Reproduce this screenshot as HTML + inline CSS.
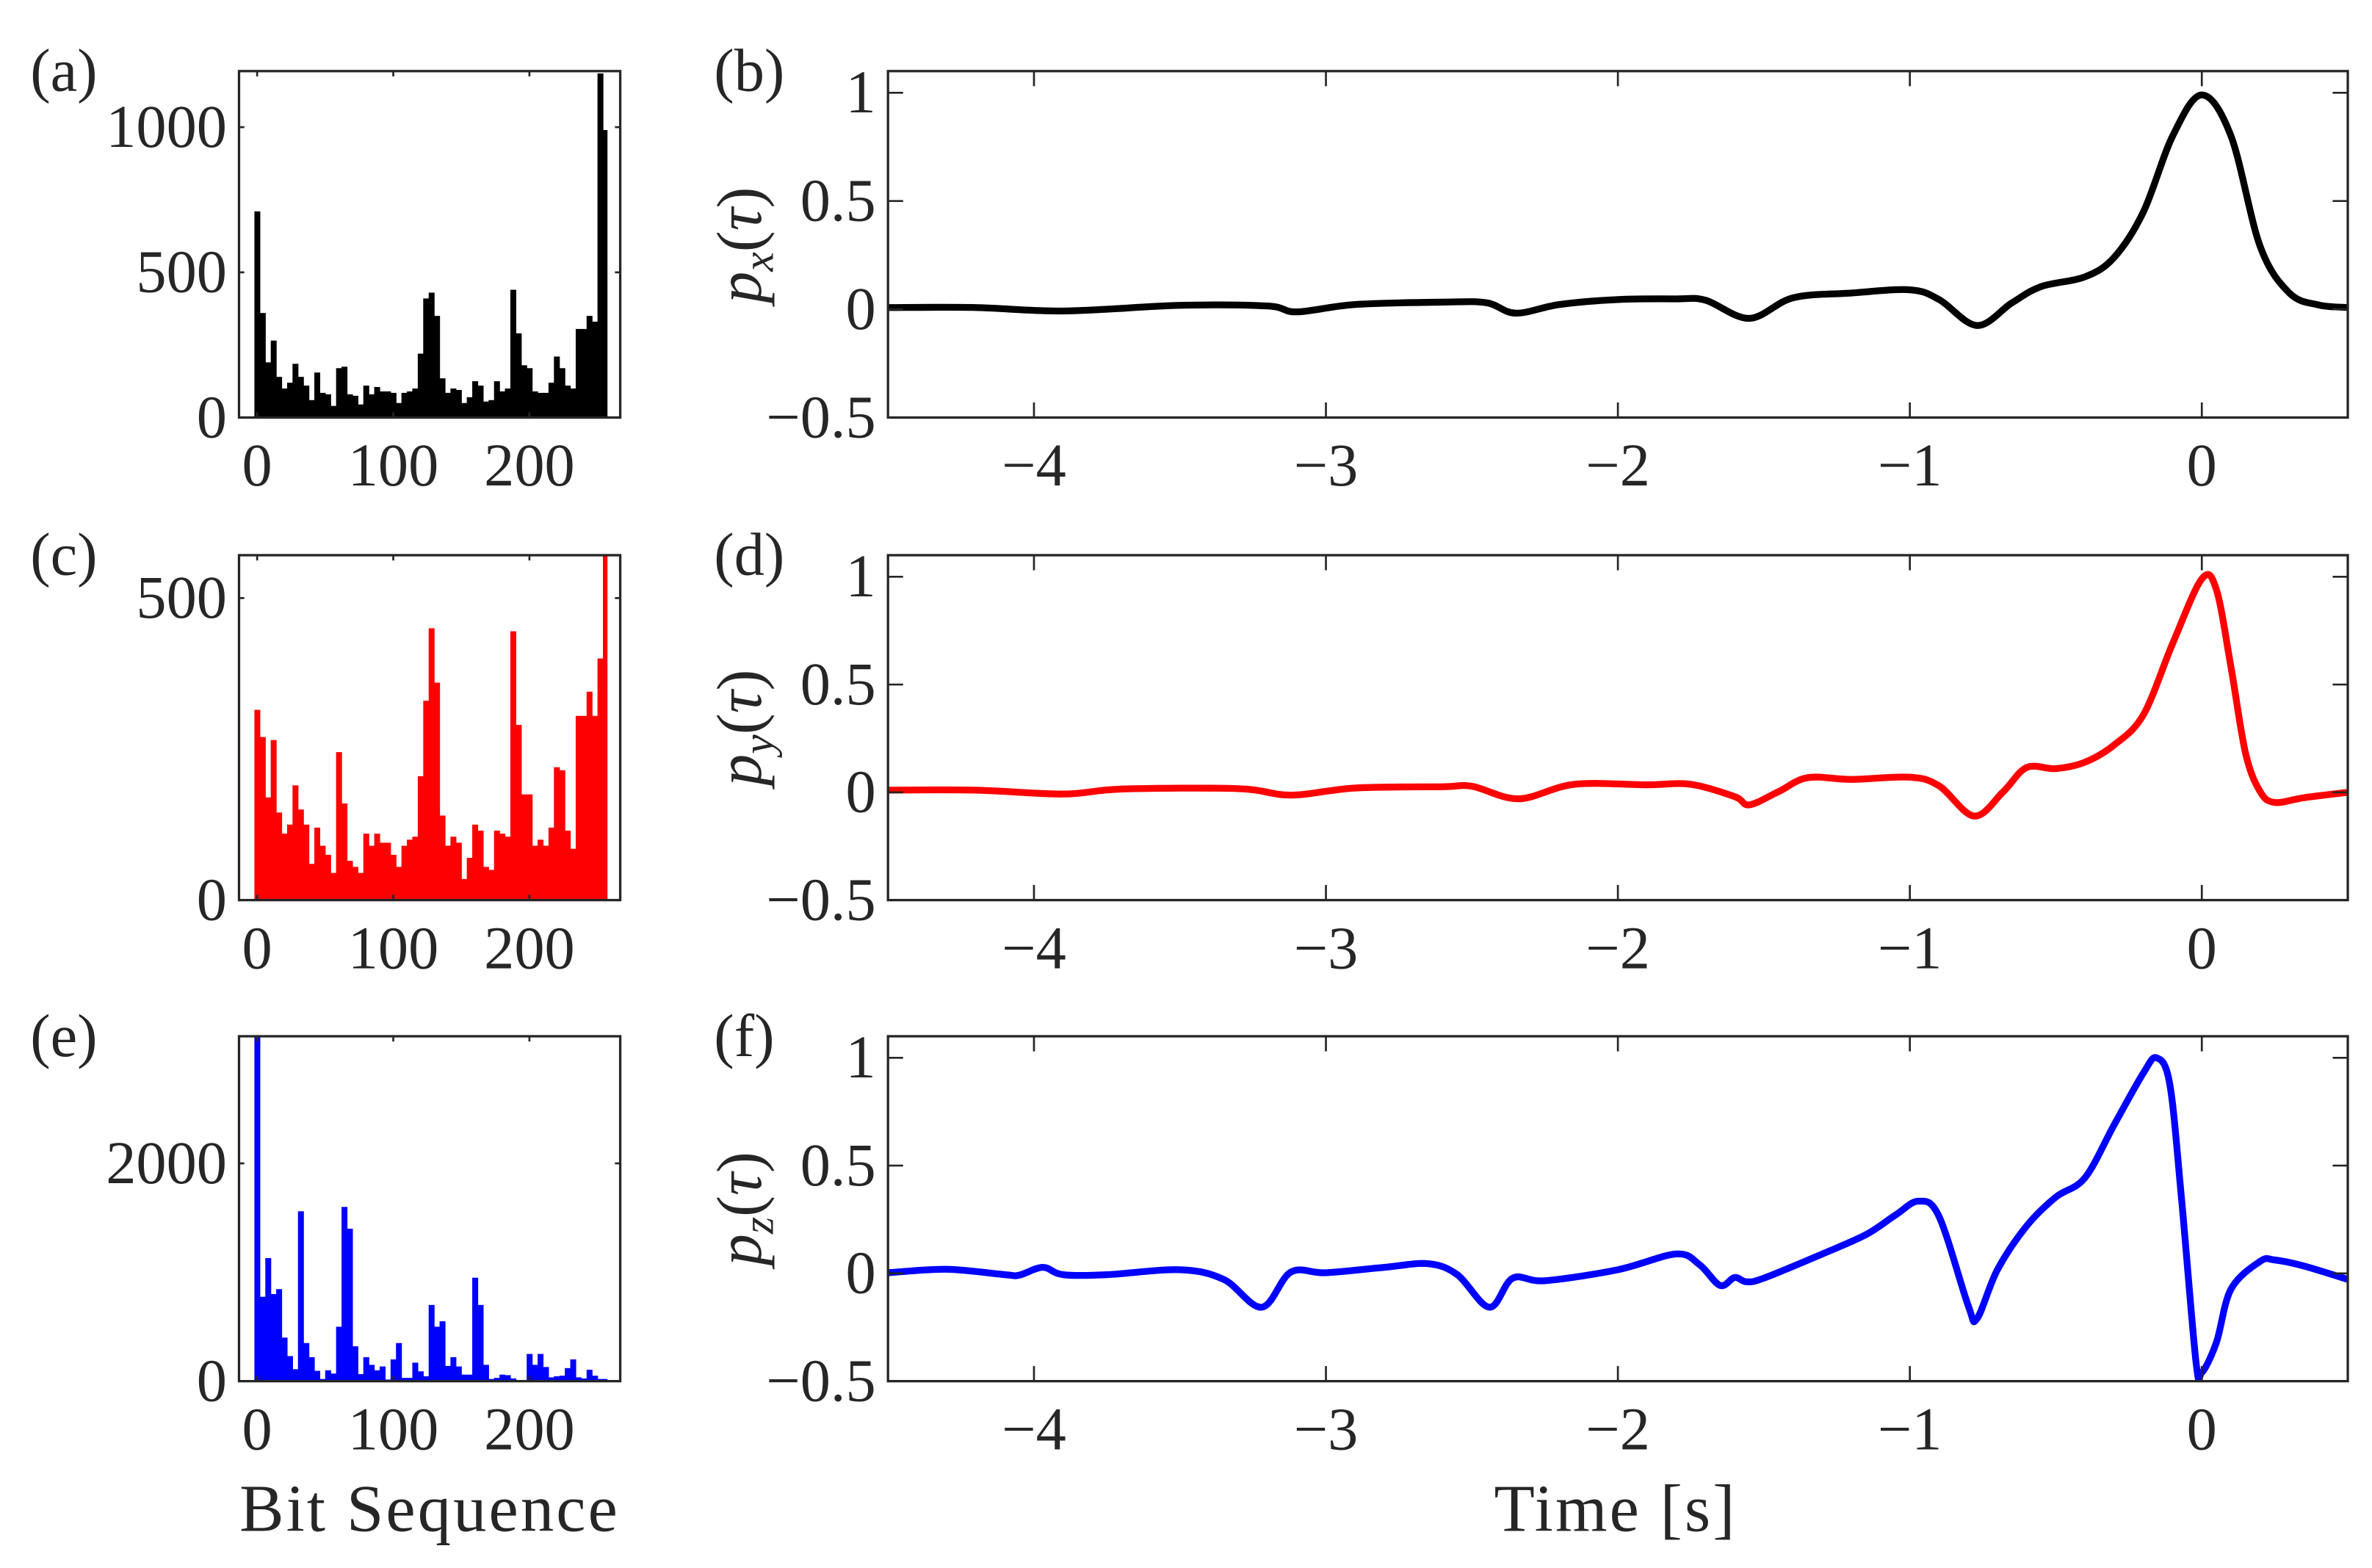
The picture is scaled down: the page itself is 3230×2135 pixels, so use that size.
<!DOCTYPE html>
<html><head><meta charset="utf-8"><style>
html,body{margin:0;padding:0;background:#fff;}
svg{display:block;}
text{font-family:"Liberation Serif",serif;fill:#262626;}
</style></head><body>
<svg id="fig" xmlns="http://www.w3.org/2000/svg" width="3230" height="2135" viewBox="0 0 1568 1036.5" preserveAspectRatio="none"></svg>
<script>
// ---- histogram data (bins of width 4, starting at -2) ----
const histA = [710,360,190,265,140,100,120,185,140,110,60,155,85,80,40,170,175,80,75,45,110,80,105,90,90,85,50,85,90,100,220,410,430,350,135,85,100,95,50,70,125,110,55,60,125,90,100,440,290,180,170,90,85,85,120,210,170,110,100,305,305,350,330,1185,990];
const histC = [315,270,170,265,145,110,125,190,150,125,60,120,90,75,45,245,160,65,55,45,110,90,110,95,95,75,55,90,100,105,205,330,450,360,140,90,105,95,35,70,125,115,55,50,115,110,105,445,290,175,175,90,100,90,120,220,215,115,85,305,305,345,305,400,580];
const histE = [3200,775,1130,800,845,400,230,110,1560,350,220,95,20,100,70,500,1600,1400,320,65,220,150,100,135,15,200,350,30,30,170,90,45,700,500,550,140,220,135,60,60,950,700,150,20,30,60,55,25,10,0,250,150,250,130,35,45,50,120,200,35,25,105,50,20,20];
const histXTicks = [0,100,200];
const histATicks = [0,500,1000];
const histCTicks = [0,500];
const histETicks = [0,2000];
// ---- time series data ----
const tB = [-4.5,-4.2,-3.9,-3.5,-3.2,-3.1,-2.9,-2.6,-2.45,-2.35,-2.2,-2.0,-1.8,-1.7,-1.55,-1.4,-1.2,-1.0,-0.9,-0.77,-0.65,-0.55,-0.4,-0.3,-0.2,-0.1,0,0.1,0.2,0.3,0.4,0.5];
const pB = [0.008,0.008,-0.008,0.018,0.015,-0.012,0.022,0.033,0.03,-0.018,0.022,0.045,0.048,0.042,-0.042,0.053,0.075,0.09,0.045,-0.075,0.03,0.105,0.15,0.24,0.45,0.80,0.99,0.80,0.29,0.075,0.02,0.008];
const tD = [-4.5,-4.2,-3.9,-3.7,-3.3,-3.12,-2.9,-2.6,-2.5,-2.34,-2.15,-1.9,-1.75,-1.6,-1.55,-1.45,-1.35,-1.2,-1.0,-0.9,-0.78,-0.68,-0.6,-0.5,-0.4,-0.3,-0.2,-0.1,0,0.05,0.1,0.15,0.2,0.25,0.35,0.5];
const pD = [0.01,0.01,-0.008,0.015,0.017,-0.013,0.02,0.026,0.028,-0.03,0.037,0.035,0.037,-0.02,-0.058,0.003,0.068,0.06,0.07,0.03,-0.11,0.003,0.115,0.11,0.14,0.22,0.36,0.69,0.99,0.94,0.58,0.18,0.003,-0.047,-0.025,0.0];
const tF = [-4.5,-4.3,-4.1,-4.05,-3.97,-3.9,-3.75,-3.5,-3.35,-3.22,-3.12,-3.0,-2.8,-2.65,-2.55,-2.44,-2.36,-2.25,-2.0,-1.8,-1.72,-1.65,-1.6,-1.56,-1.5,-1.3,-1.15,-1.05,-0.97,-0.9,-0.8,-0.77,-0.7,-0.6,-0.5,-0.4,-0.3,-0.2,-0.155,-0.11,-0.07,-0.02,0.0,0.05,0.1,0.2,0.25,0.35,0.5];
const pF = [0.003,0.019,-0.006,-0.008,0.028,-0.006,-0.006,0.017,-0.028,-0.157,0.006,0.003,0.028,0.045,-0.006,-0.157,-0.022,-0.034,0.017,0.09,0.04,-0.056,-0.019,-0.039,-0.022,0.09,0.18,0.27,0.335,0.264,-0.15,-0.21,0.017,0.22,0.354,0.444,0.69,0.93,1.0,0.88,0.354,-0.41,-0.46,-0.32,-0.073,0.056,0.062,0.034,-0.028];
const timeTicks = [-4,-3,-2,-1,0];
const pTicks = [-0.5,0,0.5,1];

const NS = 'http://www.w3.org/2000/svg';
const svg = document.getElementById('fig');
function el(tag, attrs, parent){ const e=document.createElementNS(NS,tag); for(const k in attrs) e.setAttribute(k,attrs[k]); (parent||svg).appendChild(e); return e; }
function fmt(v){ return (v<0?'\u2212':'')+String(Math.abs(v)); }
const AX='#262626';
let clipId=0;

function axesFrame(x0,x1,y0,y1,xs,ys,xTicks,yTicks,tickLen,name){
  const g = el('g',{});
  
  
  xTicks.forEach(v=>{
    const x=xs(v);
    el('line',{x1:x,x2:x,y1:y1,y2:y1-tickLen,stroke:AX,'stroke-width':1.3},g);
    el('line',{x1:x,x2:x,y1:y0,y2:y0+tickLen,stroke:AX,'stroke-width':1.3},g);
    const t=el('text',{x:x,y:y1+45,'text-anchor':'middle','font-size':40},g);
    t.textContent=fmt(v);
    
    
  });
  yTicks.forEach(v=>{
    const y=ys(v);
    el('line',{x1:x0,x2:x0+tickLen,y1:y,y2:y,stroke:AX,'stroke-width':1.3},g);
    el('line',{x1:x1,x2:x1-tickLen,y1:y,y2:y,stroke:AX,'stroke-width':1.3},g);
    const t=el('text',{x:x0-8,y:y+13,'text-anchor':'end','font-size':40},g);
    t.textContent=fmt(v);
    
    
  });
  el('rect',{x:x0,y:y0,width:x1-x0,height:y1-y0,fill:'none',stroke:AX,'stroke-width':1.6},g);
}
function clip(x0,x1,y0,y1){
  const id='c'+(clipId++);
  const cp=el('clipPath',{id:id});
  el('rect',{x:x0,y:y0,width:x1-x0,height:y1-y0},cp);
  return id;
}
function histogram(vals,color,y0,y1,ymax,yTicks,name){
  const x0=158,x1=410, xmin=-13.3, xmax=266.7;
  const xs=v=>x0+(v-xmin)/(xmax-xmin)*(x1-x0);
  const ys=v=>y1-v/ymax*(y1-y0);
  const id=clip(x0,x1,y0,y1);
  const g=el('g',{'clip-path':'url(#'+id+')'});
  
  
  vals.forEach((v,k)=>{
    const a=xs(-2+4*k), b=xs(Math.min(2+4*k,257));
    const r=el('rect',{x:a,y:ys(v),width:b-a+0.3,height:Math.max(0,y1-ys(v)),fill:color},g);
    
    
  });
  axesFrame(x0,x1,y0,y1,xs,ys,histXTicks,yTicks,3.5,name);
}
function curvePath(pts){
  let d='M'+pts[0][0]+','+pts[0][1];
  for(let i=0;i<pts.length-1;i++){
    const p0=pts[Math.max(0,i-1)],p1=pts[i],p2=pts[i+1],p3=pts[Math.min(pts.length-1,i+2)];
    const c1x=p1[0]+(p2[0]-p0[0])/6,c1y=p1[1]+(p2[1]-p0[1])/6;
    const c2x=p2[0]-(p3[0]-p1[0])/6,c2y=p2[1]-(p3[1]-p1[1])/6;
    d+=' C'+c1x+','+c1y+' '+c2x+','+c2y+' '+p2[0]+','+p2[1];
  }
  return d;
}
function linePanel(ts,ps,color,y0,y1,name){
  const x0=587,x1=1552, xmin=-4.5,xmax=0.5, ymin=-0.5, ymax=1.1;
  const xs=v=>x0+(v-xmin)/(xmax-xmin)*(x1-x0);
  const ys=v=>y1-(v-ymin)/(ymax-ymin)*(y1-y0);
  const id=clip(x0,x1,y0,y1);
  const pts=ts.map((t,i)=>[xs(t),ys(ps[i])]);
  const p=el('path',{d:curvePath(pts),fill:'none',stroke:color,'stroke-width':4.5,'stroke-linejoin':'round','clip-path':'url(#'+id+')'});
  
  
  axesFrame(x0,x1,y0,y1,xs,ys,timeTicks,pTicks,10,name);
}
histogram(histA,'#000000',47,276,1193,histATicks,'panel-a');
histogram(histC,'#ff0000',367,595,571,histCTicks,'panel-c');
histogram(histE,'#0000ff',685,913,3167,histETicks,'panel-e');
linePanel(tB,pB,'#000000',47,276,'panel-b');
linePanel(tD,pD,'#ff0000',367,595,'panel-d');
linePanel(tF,pF,'#0000ff',685,913,'panel-f');

function label(txt,x,y,name,anchor,size){
  const t=el('text',{x:x,y:y,'font-size':size||40,'text-anchor':anchor||'start'});
  t.textContent=txt;
  
  
  return t;
}
label('(a)',20,60,'panel-label-a');
label('(b)',472,60,'panel-label-b');
label('(c)',20,380,'panel-label-c');
label('(d)',472,380,'panel-label-d');
label('(e)',20,698,'panel-label-e');
label('(f)',472,698,'panel-label-f');
const bt=label('Bit Sequence',284,1012,'x-axis-title-bits','middle',44);
bt.setAttribute('letter-spacing','1.5');
const tt=label('Time [s]',1068,1012,'x-axis-title-time','middle',44);
tt.setAttribute('letter-spacing','1.5');

function ylab(sub,cy,name){
  const t=el('text',{x:0,y:0,'font-size':42,'text-anchor':'middle',transform:'translate(503,'+cy+') rotate(-90)'});
  
  
  const a=el('tspan',{'font-style':'italic'},t); a.textContent='p';
  const b=el('tspan',{'font-style':'italic','font-size':29,dy:8},t); b.textContent=sub;
  const c=el('tspan',{dy:-8},t); c.textContent='(';
  const d=el('tspan',{'font-style':'italic'},t); d.textContent='τ';
  const e=el('tspan',{},t); e.textContent=')';
}
ylab('x',162,'y-axis-title-px');
ylab('y',481,'y-axis-title-py');
ylab('z',799,'y-axis-title-pz');
</script>
</body></html>
